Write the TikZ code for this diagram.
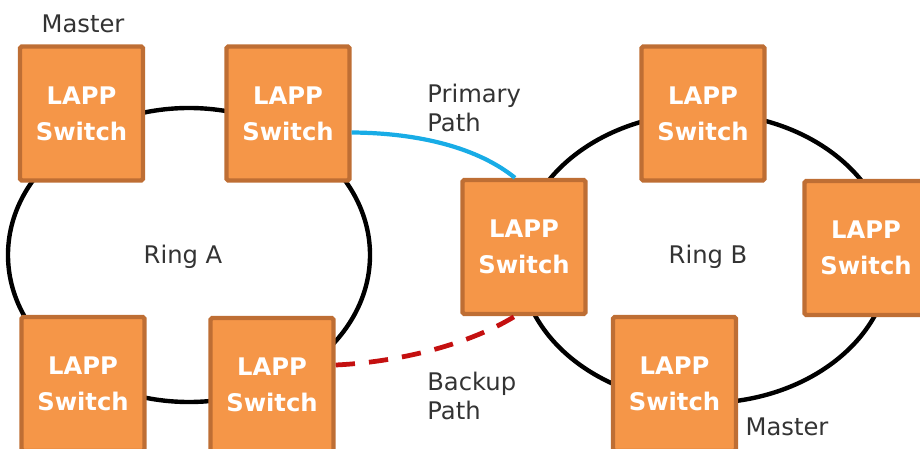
\documentclass[tikz,border=0pt]{standalone}
\usepackage{fontspec}
\setmainfont{DejaVu Sans}
\usetikzlibrary{calc}

\definecolor{switchfill}{RGB}{245,150,72}
\definecolor{switchedge}{RGB}{190,110,52}
\definecolor{primaryblue}{RGB}{24,172,230}
\definecolor{backupred}{RGB}{196,16,16}
\definecolor{labelgray}{RGB}{51,51,51}

\begin{document}
\begin{tikzpicture}
        [%%%%%%%%%%%%%%%%%%%%%%%%%%%%%%
            x=0.02cm, y=-0.02cm,
            switch/.style={rectangle, draw=switchedge, fill=switchfill, line width=2.5pt,
                minimum width=2.46cm, minimum height=2.68cm, rounded corners=1pt,
                text=white, align=center,
                font=\fontsize{13.8}{20.5}\selectfont\bfseries},
            ring/.style={draw=black, line width=2.5pt},
            lbl/.style={text=labelgray, font=\fontsize{13.8}{16}\selectfont, inner sep=0pt},
            pathlbl/.style={lbl, align=left, anchor=north west, font=\fontsize{13.8}{16.2}\selectfont},
        ]%%%%%%%%%%%%%%%%%%%%%%%%%%%%%%

        \useasboundingbox (0,0) rectangle (920,449);

        % the two rings
        \draw[ring] (189,255) ellipse [x radius=181, y radius=147];
        \draw[ring] (705,258) ellipse [x radius=185, y radius=145];

        % ring A
        \node[switch] (a1) at (81.5,113.5) {LAPP\\Switch};
        \node[switch] (a2) at (288,113.5) {LAPP\\Switch};
        \node[switch] (a3) at (83,384) {LAPP\\Switch};
        \node[switch] (a4) at (272,385) {LAPP\\Switch};

        % ring B
        \node[switch] (b1) at (524,247) {LAPP\\Switch};
        \node[switch] (b2) at (703,113.5) {LAPP\\Switch};
        \node[switch] (b3) at (866,248) {LAPP\\Switch};
        \node[switch] (b4) at (674.5,384) {LAPP\\Switch};

        % links between the rings
        \draw[primaryblue, line width=2.4pt] ($(a2.east)+(0,19)$) .. controls (420,133) and (478,148) .. ($(b1.north)+(-9,0)$);
        \draw[backupred, line width=2.7pt, dash pattern=on 11pt off 8pt] ($(a4.east)+(0,-20)$) .. controls (400,362) and (470,344) .. ($(b1.south)+(-9,0)$);

        \node[lbl] (mastera) at (83,24) {Master};
        \node[lbl] (masterb) at (787,427) {Master};
        \node[lbl] (ringa) at (183,257) {Ring A};
        \node[lbl] (ringb) at (708,257) {Ring B};
        \node[pathlbl] (primary) at (427,84) {Primary\\Path};
        \node[pathlbl] (backup) at (427,372) {Backup\\Path};
    \end{tikzpicture}
\end{document}
